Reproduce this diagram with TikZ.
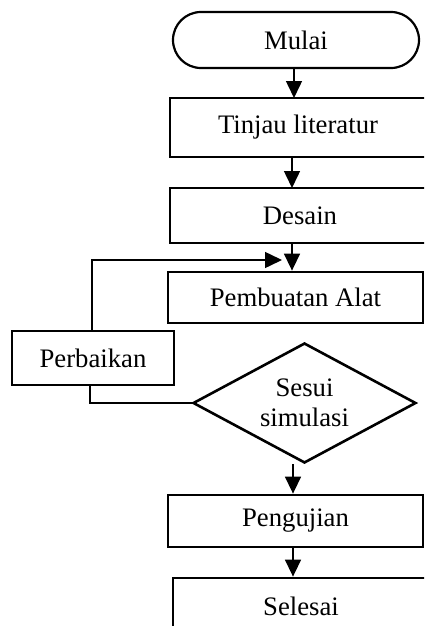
\documentclass[tikz,border=0pt]{standalone}
\usepackage{fontspec}
\setmainfont{Liberation Serif}
\usetikzlibrary{arrows.meta,shapes.geometric}
\begin{document}
\begin{tikzpicture}[x=1pt,y=-1pt,
  every node/.style={font=\fontsize{26.7}{30}\selectfont, inner sep=0pt},
  procbox/.style={draw, line width=2.8pt, rectangle},
  termbox/.style={draw, line width=2.2pt, rectangle, rounded corners=28pt},
  decbox/.style={draw, line width=2.6pt, diamond, aspect=1.86, align=center},
  conn/.style={line width=1.5pt},
  arr/.style={conn, -{Triangle[length=17pt,width=16pt]}}]
\useasboundingbox (0,0) rectangle (424,626);
\clip (0,0) rectangle (424,626);
\node[termbox, minimum width=246pt, minimum height=56pt] (mulai) at (296,40) {Mulai};
\node[procbox, minimum width=256pt, minimum height=59pt] (tinjau) at (298,127.5) {Tinjau literatur};
\node[procbox, minimum width=260pt, minimum height=55pt] (desain) at (300,215.5) {Desain\hspace{16pt}};
\node[procbox, minimum width=255pt, minimum height=51pt] (buat) at (295.5,297.5) {Pembuatan Alat};
\node[procbox, minimum width=162pt, minimum height=54pt] (perbaikan) at (93,358) {Perbaikan};
\node[decbox, minimum width=223pt, minimum height=120pt] (sesui) at (304.5,403) {Sesui\hspace{12pt}\\simulasi\hspace{12pt}};
\node[procbox, minimum width=255pt, minimum height=52pt] (uji) at (295.5,521) {Pengujian};
\node[procbox, minimum width=256pt, minimum height=56pt] (selesai) at (301,606) {Selesai};
\coordinate (fb) at (282,260);
\draw[arr] (294,68) -- (294,98);
\draw[arr] (292,157) -- (292,188);
\draw[arr] (292,243) -- (buat.north -| 292,0);
\draw[arr] (perbaikan.north -| 92,0) |- (fb);
\draw[conn] (perbaikan.south -| 90,0) |- (sesui.west);
\draw[arr] (sesui.south -| 293,0) -- (uji.north -| 293,0);
\draw[arr] (uji.south -| 293,0) -- (selesai.north -| 293,0);
\end{tikzpicture}
\end{document}
